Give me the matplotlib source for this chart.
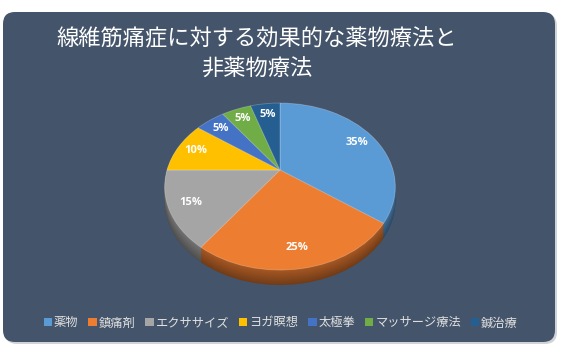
import numpy as np
import matplotlib
matplotlib.use('Agg')
import matplotlib.pyplot as plt
from matplotlib.patches import FancyBboxPatch, Patch, PathPatch
from matplotlib.path import Path
from matplotlib.colors import to_rgb

plt.rcParams['font.family'] = ['Noto Sans CJK JP', 'DejaVu Sans']

# data
labels = ['薬物', '鎮痛剤', 'エクササイズ', 'ヨガ瞑想', '太極拳', 'マッサージ療法', '鍼治療']
values = [35, 25, 15, 10, 5, 5, 5]
colors = ['#5B9BD5', '#ED7D31', '#A5A5A5', '#FFC000', '#4472C4', '#70AD47', '#255E91']
title = '線維筋痛症に対する効果的な薬物療法と\n非薬物療法'

W, H = 565, 360
fig = plt.figure(figsize=(W / 100, H / 100), dpi=100)
fig.patch.set_facecolor('white')

# one axes in pixel coords (y down)
ax = fig.add_axes([0, 0, 1, 1])

# perspective tilt of the pie: unit disk -> pixels
cx, cy = 280, 170
a, b, k = 80.2, 113, 0.198
depth = 15


def project(xy, drop=0.0):
    u, v = xy[:, 0], xy[:, 1]
    w = 1 + k * v
    return np.column_stack([cx + b * u / w, cy - a * v / w + drop])


def tilt(wedges, drop=0.0, zorder=2):
    for wd in wedges:
        p = wd.get_path()
        pp = PathPatch(Path(project(p.vertices, drop), p.codes),
                       facecolor=wd.get_facecolor(), edgecolor=wd.get_edgecolor(),
                       linewidth=wd.get_linewidth(), zorder=zorder)
        wd.remove()
        ax.add_patch(pp)


# side of the pie: stacked darker layers
for i, d in enumerate(np.linspace(depth, 0.5, 24)):
    f = 0.48 + 0.22 * i / 23
    dark = [tuple(c * f for c in to_rgb(col)) for col in colors]
    w_side, _ = ax.pie(values, colors=dark, startangle=90, counterclock=False,
                       wedgeprops=dict(linewidth=0))
    tilt(w_side, drop=d, zorder=2)

wedges, _, autotexts = ax.pie(values, colors=colors, startangle=90, counterclock=False,
                              autopct='%d%%', pctdistance=0.82,
                              wedgeprops=dict(linewidth=0.6, edgecolor=(1, 1, 1, 0.25)),
                              textprops=dict(color='white', fontsize=8, fontweight='bold',
                                             family=['Open Sans', 'DejaVu Sans']))
tilt(wedges, zorder=3)
for t in autotexts:
    t.set_position(project(np.array([t.get_position()]))[0])
    t.set_zorder(4)

ax.set_aspect('auto')
ax.set_xlim(0, W)
ax.set_ylim(H, 0)
ax.axis('off')

# rounded dark card behind the chart
ax.add_patch(FancyBboxPatch((5, 14), 552, 330, boxstyle='round,pad=0,rounding_size=12',
                            facecolor='#D0D3D8', edgecolor='none', zorder=0))
ax.add_patch(FancyBboxPatch((3, 12), 552, 330, boxstyle='round,pad=0,rounding_size=12',
                            facecolor='#44546A', edgecolor='none', zorder=1))

ax.text(257, 54, title, ha='center', va='center', color='white',
        fontsize=16, linespacing=1.45, zorder=5)

handles = [Patch(facecolor=c, edgecolor='none') for c in colors]
fig.legend(handles, labels, loc='center', bbox_to_anchor=(0.497, 0.103), ncol=7,
           frameon=False, fontsize=8.8, labelcolor='#E0E0E0', handlelength=0.7,
           handleheight=0.7, handletextpad=0.15, columnspacing=0.8)

fig.savefig('out.png', dpi=100)
